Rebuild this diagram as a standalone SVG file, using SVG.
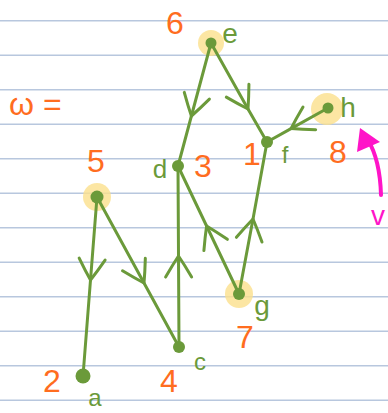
<svg xmlns="http://www.w3.org/2000/svg" width="388" height="413" viewBox="0 0 388 413">
<style>
.rule{stroke:#b8c7de;stroke-width:1.5}
.edge{fill:none;stroke:#6b9a3a;stroke-width:3;stroke-linecap:round;stroke-linejoin:round;marker-mid:url(#chev)}
.dot{fill:#6b9a3a}
.glow{fill:#fbe08c;opacity:0.8}
.num{fill:#ff6d1f;font-family:"Liberation Sans",Arial,sans-serif;font-size:32px;text-anchor:middle}
.lbl{fill:#6b9a3a;font-family:"Liberation Sans",Arial,sans-serif;text-anchor:middle}
.pink{fill:#ff14c8}
</style>
<defs>
<marker id="chev" markerUnits="userSpaceOnUse" markerWidth="50" markerHeight="50" viewBox="-25 -25 50 50" refX="0" refY="0" orient="auto">
<path d="M -21 -13 Q -9 -6 0 0 Q -9 6 -21 13" fill="none" stroke="#6b9a3a" stroke-width="3" stroke-linecap="round"/>
</marker>
</defs>
<rect width="388" height="413" fill="#ffffff"/>
<g id="paper">
<line class="rule" x1="0" y1="20.7" x2="388" y2="20.7"/>
<line class="rule" x1="0" y1="55.2" x2="388" y2="55.2"/>
<line class="rule" x1="0" y1="89.7" x2="388" y2="89.7"/>
<line class="rule" x1="0" y1="124.2" x2="388" y2="124.2"/>
<line class="rule" x1="0" y1="158.7" x2="388" y2="158.7"/>
<line class="rule" x1="0" y1="193.2" x2="388" y2="193.2"/>
<line class="rule" x1="0" y1="227.7" x2="388" y2="227.7"/>
<line class="rule" x1="0" y1="262.2" x2="388" y2="262.2"/>
<line class="rule" x1="0" y1="296.7" x2="388" y2="296.7"/>
<line class="rule" x1="0" y1="331.2" x2="388" y2="331.2"/>
<line class="rule" x1="0" y1="365.7" x2="388" y2="365.7"/>
<line class="rule" x1="0" y1="400.2" x2="388" y2="400.2"/>
</g>
<g id="highlights">
<circle class="glow" cx="211" cy="43" r="13"/>
<circle class="glow" cx="327" cy="109" r="16"/>
<circle class="glow" cx="97" cy="197" r="14"/>
<circle class="glow" cx="239" cy="294" r="14"/>
</g>
<g id="connectors">
<path class="edge" d="M 211 43 L 191.4 116 L 178 166"/>
<path class="edge" d="M 211 43 L 248 109 L 267 142"/>
<path class="edge" d="M 328 108 L 291 128.6 L 267 142"/>
<path class="edge" d="M 179 347 L 178.5 256 L 178 166"/>
<path class="edge" d="M 239 294 L 206.6 226 L 178 166"/>
<path class="edge" d="M 239 294 L 253 219 L 267 142"/>
<path class="edge" d="M 97 197 L 90.5 280 L 83 376"/>
<path class="edge" d="M 97 197 L 144 283 L 179 347"/>
</g>
<g id="node-e"><circle class="dot" cx="211" cy="43" r="5.5"/><text class="lbl" x="230" y="43" font-size="28">e</text><text class="num" x="175" y="34">6</text></g>
<g id="node-h"><circle class="dot" cx="328" cy="108" r="5.5"/><text class="lbl" x="348" y="117" font-size="28">h</text><text class="num" x="338" y="163">8</text></g>
<g id="node-f"><circle class="dot" cx="267" cy="142" r="6"/><text class="lbl" x="285" y="163" font-size="24">f</text><text class="num" x="252" y="165">1</text></g>
<g id="node-d"><circle class="dot" cx="178" cy="166" r="6"/><text class="lbl" x="160" y="178" font-size="26">d</text><text class="num" x="203" y="177">3</text></g>
<g id="node-b"><circle class="dot" cx="97" cy="197" r="6.5"/><text class="num" x="96" y="172">5</text></g>
<g id="node-g"><circle class="dot" cx="239" cy="294" r="6"/><text class="lbl" x="262" y="315" font-size="28">g</text><text class="num" x="245" y="348">7</text></g>
<g id="node-c"><circle class="dot" cx="179" cy="347" r="6"/><text class="lbl" x="200" y="370" font-size="24">c</text><text class="num" x="169" y="392">4</text></g>
<g id="node-a"><circle class="dot" cx="83" cy="376" r="7.5"/><text class="lbl" x="95" y="406" font-size="24">a</text><text class="num" x="52" y="392">2</text></g>
<g id="weight-label"><text x="9" y="115" fill="#ff6d1f" font-family="Liberation Sans, Arial, sans-serif" font-size="32">ω =</text></g>
<g id="v-arrow">
<path d="M 381 195 Q 380 160 368 140" fill="none" stroke="#ff14c8" stroke-width="4" stroke-linecap="round"/>
<polygon class="pink" points="360,128 357,152 380,142"/>
<text class="pink" x="378" y="225" font-family="Liberation Sans, Arial, sans-serif" font-size="28" text-anchor="middle">v</text>
</g>
</svg>
